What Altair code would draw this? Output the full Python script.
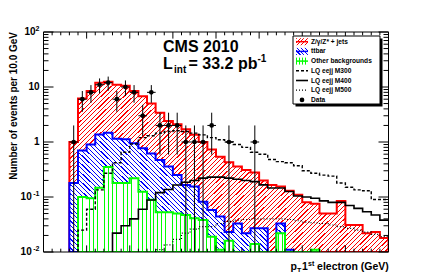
import math
import altair as alt
import pandas as pd

# ---------------- data ----------------
bin_lo = list(range(0, 400, 10))  # 10 GeV bins, left edges

# stacked heights (top of each coloured stack)
zjets_stack = [0, 0, 0, 1.0, 6.2, 8.5, 12, 12.5, 11, 10.5, 8.5, 6.8, 5.0, 3.4, 2.4, 2.1, 1.7, 1.35,
               1.0, 0.73, 0.54, 0.43, 0.36, 0.31, 0.28, 0.2, 0.165, 0.155, 0.13, 0.11, 0.08, 0.075,
               0.05, 0.05, 0.085, 0.031, 0.031, 0.022, 0.023, 0.018]
ttbar_stack = [0, 0, 0, 0.18, 0.7, 0.9, 1.37, 1.47, 1.15, 1.12, 0.95, 0.77, 0.62, 0.47, 0.36, 0.25,
               0.165, 0.155, 0.082, 0.058, 0.044, 0.023, 0.033, 0.022, 0.027, 0.027, 0, 0.033, 0.011,
               0, 0, 0, 0, 0, 0, 0, 0, 0, 0, 0]
other_stack = [0, 0, 0, 0, 0.1, 0.095, 0.148, 0.35, 0.18, 0.18, 0.22, 0.125, 0.089, 0.053, 0.053,
               0.05, 0.047, 0.041, 0.038, 0.019, 0.011, 0.016, 0, 0, 0.014, 0, 0, 0.022, 0, 0, 0,
               0.011, 0, 0, 0, 0, 0, 0, 0, 0]
lq_m300 = [0, 0, 0, 0, 0.025, 0.06, 0.135, 0.27, 0.42, 0.65, 0.92, 1.2, 1.3, 1.45, 1.55, 1.6, 1.55,
           1.45, 1.35, 1.2, 1.1, 1.0, 0.9, 0.8, 0.65, 0.6, 0.48, 0.44, 0.42, 0.37, 0.3, 0.27, 0.25,
           0.24, 0.18, 0.15, 0.135, 0.13, 0.09, 0.09]
lq_m400 = [0, 0, 0, 0, 0, 0, 0, 0, 0.022, 0.03, 0.04, 0.06, 0.088, 0.12, 0.137, 0.165, 0.185, 0.2,
           0.22, 0.23, 0.23, 0.22, 0.21, 0.2, 0.19, 0.166, 0.146, 0.146, 0.126, 0.104, 0.1, 0.095,
           0.085, 0.08, 0.08, 0.07, 0.062, 0.054, 0.047, 0.038]
lq_m500 = [0, 0, 0, 0, 0, 0, 0, 0, 0, 0, 0, 0, 0, 0.011, 0.0135, 0.017, 0.022, 0.026, 0.029, 0.029,
           0.033, 0.036, 0.038, 0.039, 0.04, 0.04, 0.04, 0.04, 0.039, 0.037, 0.035, 0.034, 0.033,
           0.031, 0.029, 0.027, 0.025, 0.023, 0.021, 0.019]

data_pt = [35, 45, 55, 65, 75, 85, 95, 105, 115, 125, 135, 145, 155, 165, 175, 185, 195, 215, 245]
data_n = [1, 6, 8, 11, 12, 6, 10, 8, 3, 8, 2, 2, 2, 1, 1, 1, 2, 1, 1]
data_err = [1, 2.45, 2.83, 3.32, 3.46, 2.45, 3.16, 2.83, 1.73, 2.83, 1.41, 1.41, 1.41, 1, 1, 1,
            1.41, 1, 1]

x_major = [0, 50, 100, 150, 200, 250, 300, 350, 400]
x_minor = [v for v in range(0, 401, 10) if v % 50]
y_major = [0.01, 0.1, 1, 10, 100]
y_minor = [m * 10.0 ** k for k in range(-2, 2) for m in range(2, 10)]
y_label_base = ["10", "10", "1", "10", "10"]
y_label_sup = ["-2", "-1", "", "", "2"]

legend_labels = ["Z/\u03b3/Z* + jets", "ttbar", "Other backgrounds", "LQ eejj M300",
                 "LQ eejj M400", "LQ eejj M500", "Data"]

# ---------------- layout / style ----------------
W, H = 345, 220
X0, X1 = 0, 400
YLO, YHI = 0.01, 100
FLOOR = 1e-3
FONT = "Liberation Sans"
RED, BLUE, GREEN = "#ff0000", "#0000ff", "#00ff00"

xs = alt.Scale(domain=[X0, X1], nice=False, zero=False)
ys = alt.Scale(type="log", domain=[YLO, YHI], nice=False, clamp=True)
ONE = pd.DataFrame({"k": [0]})


def xpx(v):
    return (v - X0) / (X1 - X0) * W


def ypx(v):
    v = max(v, YLO)
    return H * (math.log10(YHI) - math.log10(v)) / (math.log10(YHI) - math.log10(YLO))


def hatch_fill(color, w, h, direction, period=4.5, thick=0.85):
    if direction == "|":
        span = w
        coords = dict(x1=0, y1=0, x2=1, y2=0)
        frac = thick / period
    else:
        r = h / w
        k = (1 + r) / (1 + r * r)
        span = w + h
        if direction == "/":
            coords = dict(x1=0, y1=0, x2=k, y2=k * r)
        else:
            coords = dict(x1=0, y1=1, x2=k, y2=1 - k * r)
        frac = thick * math.sqrt(2) / period
    n = max(1, int(round(span / period)))
    stops = []
    for i in range(n):
        s = round(i / n, 6)
        e = round((i + frac) / n, 6)
        stops += [{"offset": s, "color": "white"}, {"offset": s, "color": color},
                  {"offset": e, "color": color}, {"offset": e, "color": "white"}]
    stops.append({"offset": 1, "color": "white"})
    return dict(gradient="linear", stops=stops, **coords)


def step_rows(vals, lead_floor=False):
    nz = [i for i, v in enumerate(vals) if v > 0]
    a, b = nz[0], nz[-1]
    rows = []
    if lead_floor:
        rows.append({"x": bin_lo[a], "y": FLOOR})
    for i in range(a, b + 1):
        rows.append({"x": bin_lo[i], "y": vals[i] if vals[i] > 0 else FLOOR})
    rows.append({"x": bin_lo[b] + 10, "y": rows[-1]["y"]})
    df = pd.DataFrame(rows)
    df["i"] = range(len(df))
    return df


def hist_area(vals, color, direction, period, with_axis=False):
    df = step_rows(vals)
    w = xpx(df["x"].max()) - xpx(df["x"].min())
    h = (H + 3) - ypx(df["y"].max())
    fill = hatch_fill(color, w, h, direction, period=period)
    if with_axis:
        xaxis = alt.Axis(values=x_major, ticks=False, tickSize=0, domain=False, grid=False,
                         labelFont=FONT, labelFontSize=10, labelFontWeight="bold",
                         labelColor="black", labelPadding=3, labelFlush=False, title=None)
    else:
        xaxis = None
    return alt.Chart(df).mark_area(
        interpolate="step-after", fill=fill, stroke=color, strokeWidth=2, clip=True
    ).encode(
        x=alt.X("x:Q", scale=xs, axis=xaxis),
        y=alt.Y("y:Q", scale=ys, axis=None),
        y2=alt.value(H + 3),
    )


def sig_line(vals, dash, width):
    df = step_rows(vals, lead_floor=True)
    kw = dict(interpolate="step-after", color="black", strokeWidth=width, clip=True)
    if dash:
        kw["strokeDash"] = dash
    return alt.Chart(df).mark_line(**kw).encode(
        x=alt.X("x:Q", scale=xs, axis=None),
        y=alt.Y("y:Q", scale=ys, axis=None),
        order=alt.Order("i:Q"),
    )


def txt(s, x, y, size, weight="bold", align="left", baseline="alphabetic", angle=None):
    kw = dict(text=s, font=FONT, fontSize=size, fontWeight=weight, align=align,
              baseline=baseline, color="black")
    if angle is not None:
        kw["angle"] = angle
    return alt.Chart(ONE).mark_text(**kw).encode(x=alt.value(x), y=alt.value(y))


def rule_px(x1, x2, y1, y2, color="black", width=1.0, dash=None):
    kw = dict(color=color, strokeWidth=width)
    if dash:
        kw["strokeDash"] = dash
    return alt.Chart(ONE).mark_rule(**kw).encode(
        x=alt.value(x1), x2=alt.value(x2), y=alt.value(y1), y2=alt.value(y2))


def rect_px(x1, x2, y1, y2, fill, stroke=None, width=1.0, fill_opacity=1.0):
    kw = dict(fill=fill, fillOpacity=fill_opacity)
    if stroke:
        kw.update(stroke=stroke, strokeWidth=width)
    return alt.Chart(ONE).mark_rect(**kw).encode(
        x=alt.value(x1), x2=alt.value(x2), y=alt.value(y1), y2=alt.value(y2))


layers = []

# stacked hatched histograms
layers.append(hist_area(zjets_stack, RED, "/", 4.6, with_axis=True))
layers.append(hist_area(ttbar_stack, BLUE, "\\", 4.6))
layers.append(hist_area(other_stack, GREEN, "|", 3.8))

# signal curves
layers.append(sig_line(lq_m300, [3, 2], 1.4))
layers.append(sig_line(lq_m400, None, 1.6))
layers.append(sig_line(lq_m500, [1, 2], 1.2))

# data with error bars
ddf = pd.DataFrame({"pt": data_pt, "n": data_n, "err": data_err})
ddf["lo"] = [max(n - e, FLOOR) for n, e in zip(data_n, data_err)]
ddf["hi"] = [n + e for n, e in zip(data_n, data_err)]
ddf["xl"] = ddf["pt"] - 5
ddf["xr"] = ddf["pt"] + 5
layers.append(alt.Chart(ddf).mark_rule(color="black", strokeWidth=1, clip=True).encode(
    x=alt.X("pt:Q", scale=xs, axis=None), y=alt.Y("lo:Q", scale=ys, axis=None), y2="hi:Q"))
layers.append(alt.Chart(ddf).mark_rule(color="black", strokeWidth=1, clip=True).encode(
    x=alt.X("xl:Q", scale=xs, axis=None), x2="xr:Q", y=alt.Y("n:Q", scale=ys, axis=None)))
layers.append(alt.Chart(ddf).mark_circle(size=22, color="black", opacity=1, clip=True).encode(
    x=alt.X("pt:Q", scale=xs, axis=None), y=alt.Y("n:Q", scale=ys, axis=None)))

# ticks (ROOT style, inside the frame, on all four sides)
XMAJ, XMIN, YMAJ, YMINL = 6.6, 3.3, 10, 5
for vals, ln in [(x_major, XMAJ), (x_minor, XMIN)]:
    df = pd.DataFrame({"v": vals})
    for y_a, y_b in [(H, H - ln), (0, ln)]:
        layers.append(alt.Chart(df).mark_rule(color="black", strokeWidth=1).encode(
            x=alt.X("v:Q", scale=xs, axis=None), y=alt.value(y_a), y2=alt.value(y_b)))
for vals, ln in [(y_major, YMAJ), (y_minor, YMINL)]:
    df = pd.DataFrame({"v": vals})
    for x_a, x_b in [(0, ln), (W, W - ln)]:
        layers.append(alt.Chart(df).mark_rule(color="black", strokeWidth=1).encode(
            y=alt.Y("v:Q", scale=ys, axis=None), x=alt.value(x_a), x2=alt.value(x_b)))

# frame
layers.append(rect_px(0, W, 0, H, "white", stroke="black", width=1, fill_opacity=0))

# y tick labels with superscripts
for v, base, sup in zip(y_major, y_label_base, y_label_sup):
    df = pd.DataFrame({"v": [v]})
    base_right = -4 - 3.9 * len(sup)
    layers.append(alt.Chart(df).mark_text(
        text=base, font=FONT, fontSize=10, fontWeight="bold", align="right",
        baseline="middle", color="black").encode(
        x=alt.value(base_right), y=alt.Y("v:Q", scale=ys, axis=None)))
    if sup:
        layers.append(alt.Chart(df).mark_text(
            text=sup, font=FONT, fontSize=7, fontWeight="bold", align="right",
            baseline="middle", dy=-3.5, color="black").encode(
            x=alt.value(-4), y=alt.Y("v:Q", scale=ys, axis=None)))

# axis titles
layers.append(txt("Number of events per 10.0 GeV", -30, 0, 10, align="right",
                  baseline="middle", angle=270))
layers.append(txt("p", 247, 238, 10.5))
layers.append(txt("T", 253.6, 240.5, 7))
layers.append(txt("1", 258.6, 238, 10.5))
layers.append(txt("st", 264.6, 233.5, 7))
layers.append(txt("electron (GeV)", 273.6, 238, 10.5))

# CMS labels
layers.append(txt("CMS 2010", 119.5, 20, 16))
layers.append(txt("L", 119.5, 37, 16))
layers.append(txt("int", 130.5, 41, 10))
layers.append(txt("= 33.2 pb", 145, 37, 16))
layers.append(txt("-1", 214, 29.5, 10))

# legend
LX0, LX1, LY0, LY1 = 249.5, 336.5, 4, 72
layers.append(rect_px(LX0 + 2.5, LX1 + 2.5, LY0 + 2.5, LY1 + 2.5, "black"))
layers.append(rect_px(LX0, LX1, LY0, LY1, "white", stroke="black", width=1))
SX0, SX1 = 252.5, 264.5
row_y = [9.7 + 9.7 * i for i in range(len(legend_labels))]
for (color, direction, period), yy in zip(
        [(RED, "/", 4.0), (BLUE, "\\", 4.0), (GREEN, "|", 3.0)], row_y[:3]):
    layers.append(rect_px(SX0, SX1, yy - 3.5, yy + 3.5,
                          hatch_fill(color, SX1 - SX0, 7, direction, period=period)))
    layers.append(rule_px(SX0, SX1, yy, yy, color=color, width=1.5))
layers.append(rule_px(SX0, SX1, row_y[3], row_y[3], width=1.4, dash=[3, 2]))
layers.append(rule_px(SX0, SX1, row_y[4], row_y[4], width=1.6))
layers.append(rule_px(SX0, SX1, row_y[5], row_y[5], width=1.2, dash=[1, 2]))
layers.append(alt.Chart(ONE).mark_circle(size=22, color="black", opacity=1).encode(
    x=alt.value((SX0 + SX1) / 2), y=alt.value(row_y[6])))
for lab, yy in zip(legend_labels, row_y):
    layers.append(txt(lab, 267.5, yy, 6.6, weight="bold", baseline="middle"))

chart = alt.layer(*layers).properties(
    width=W, height=H,
    autosize=alt.AutoSizeParams(type="none"),
    padding={"left": 35.5, "top": 24, "right": 39.5, "bottom": 20},
).configure_view(strokeWidth=0)

chart.save("out.html", embed_options={"renderer": "svg", "actions": False})
